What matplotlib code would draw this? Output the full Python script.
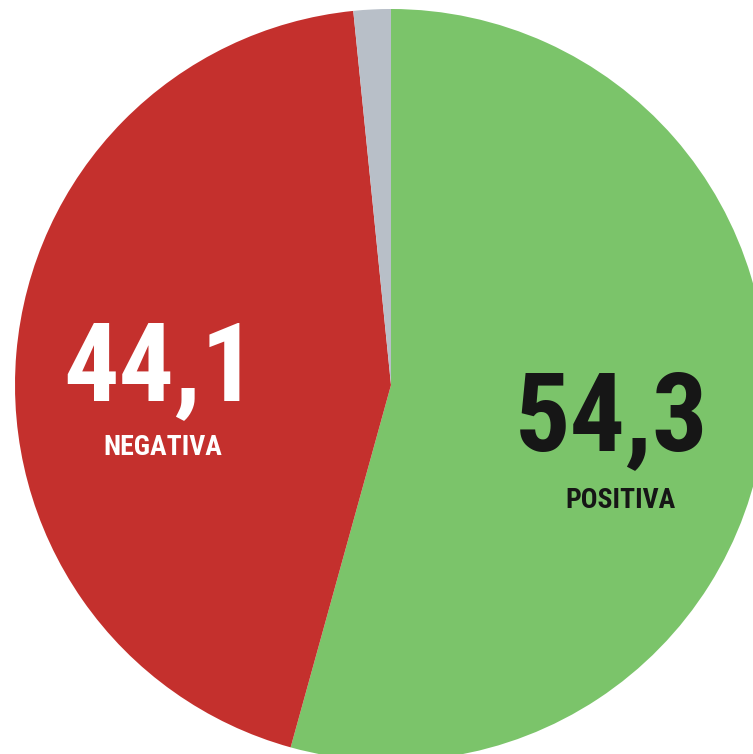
import matplotlib.pyplot as plt

labels = ['POSITIVA', 'NEGATIVA', 'OTROS']
values = [54.3, 44.1, 1.6]
value_text = ['54,3', '44,1']
colors = ['#7bc46a', '#c4302d', '#b8bfc8']

fig = plt.figure(figsize=(7.53, 7.54), dpi=100)
ax = fig.add_axes([0, 0, 1, 1])
ax.pie(values, colors=colors, startangle=90, counterclock=False,
       center=(391, 369), radius=376, wedgeprops=dict(linewidth=0))
ax.set_xlim(0, 753)
ax.set_ylim(0, 754)
ax.set_aspect('auto')
ax.axis('off')

fam = ['Roboto Condensed', 'Archivo Narrow', 'DejaVu Sans']
# negativa (white on red)
ax.text(160, 354, value_text[1], color='white', fontsize=79, fontweight='bold',
        family=fam, ha='center', va='baseline')
ax.text(163, 299, labels[1], color='white', fontsize=20, fontweight='bold',
        family=fam, ha='center', va='baseline')
# positiva (black on green)
ax.text(612, 304, value_text[0], color='#161616', fontsize=79, fontweight='bold',
        family=fam, ha='center', va='baseline')
ax.text(621, 246, labels[0], color='#161616', fontsize=20, fontweight='bold',
        family=fam, ha='center', va='baseline')

fig.savefig('out.png', dpi=100)
